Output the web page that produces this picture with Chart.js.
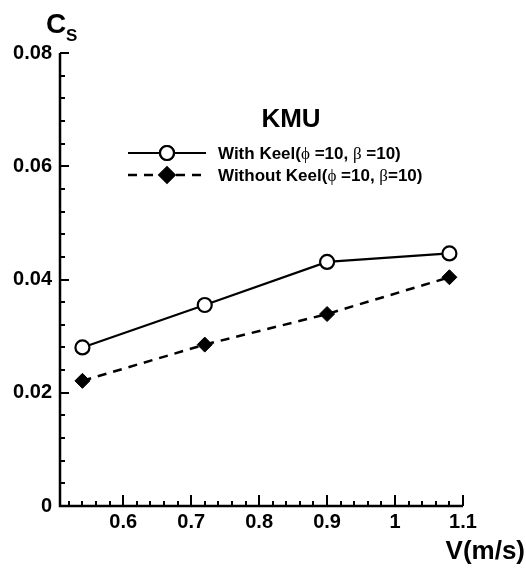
<!DOCTYPE html>
<html>
<head>
<meta charset="utf-8">
<script src="https://cdn.jsdelivr.net/npm/chart.js@4.4.0/dist/chart.umd.min.js"></script>
<style>
  html, body { margin: 0; padding: 0; background: #fff; }
  #wrap { width: 526px; height: 573px; }
</style>
</head>
<body>
<div id="wrap"><canvas id="chart" width="526" height="573"></canvas></div>
<script>
// data
const speeds = [0.54, 0.72, 0.9, 1.08];
const withKeel = [0.0280, 0.0355, 0.0431, 0.0446];
const withoutKeel = [0.0221, 0.0285, 0.0339, 0.0404];
const seriesNames = ['With Keel(ϕ =10, β =10)', 'Without Keel(ϕ =10, β =10)'];
const xTickLabels = [0.6, 0.7, 0.8, 0.9, 1, 1.1];
const yTickLabels = [0, 0.02, 0.04, 0.06, 0.08];

const FONT = '"Liberation Sans", Arial, sans-serif';

function points(xs, ys) {
  return xs.map((x, i) => ({ x: x, y: ys[i] }));
}

// axis lines with inward major/minor ticks, drawn through the scales
const axesPlugin = {
  id: 'axes',
  afterDatasetsDraw(chart) {
    const ctx = chart.ctx;
    const xs = chart.scales.x, ys = chart.scales.y;
    const a = chart.chartArea;
    ctx.save();
    ctx.strokeStyle = '#000';
    ctx.lineWidth = 2.5;
    ctx.beginPath();
    ctx.moveTo(a.left, a.top);
    ctx.lineTo(a.left, a.bottom);
    ctx.lineTo(a.right, a.bottom);
    ctx.stroke();

    ctx.lineWidth = 2;
    for (let i = 0; i <= 20; i++) {
      const v = i * 0.004;
      const y = Math.round(ys.getPixelForValue(v));
      const len = i % 5 === 0 ? 9 : 5;
      ctx.beginPath();
      ctx.moveTo(a.left, y);
      ctx.lineTo(a.left + len, y);
      ctx.stroke();
    }
    for (let i = 26; i <= 55; i++) {
      const v = i * 0.02;
      const x = Math.round(xs.getPixelForValue(v));
      const len = i % 5 === 0 ? 11 : 5;
      ctx.beginPath();
      ctx.moveTo(x, a.bottom);
      ctx.lineTo(x, a.bottom - len);
      ctx.stroke();
    }
    ctx.restore();
  }
};

// draws a run of text pieces with different fonts
function drawRuns(ctx, x, y, runs) {
  runs.forEach(r => {
    ctx.font = r[1];
    ctx.fillText(r[0], x, y);
    x += ctx.measureText(r[0]).width;
  });
}

// axis titles, "KMU" title and the legend box inside the plot
const labelsPlugin = {
  id: 'labels',
  afterDraw(chart) {
    const ctx = chart.ctx;
    ctx.save();
    ctx.fillStyle = '#000';
    ctx.textBaseline = 'alphabetic';

    ctx.font = 'bold 28px ' + FONT;
    ctx.fillText('C', 46, 33);
    ctx.font = 'bold 17px ' + FONT;
    ctx.fillText('S', 66, 41);

    ctx.font = 'bold 26px ' + FONT;
    ctx.textAlign = 'right';
    ctx.fillText('V(m/s)', 525, 559);

    ctx.textAlign = 'center';
    ctx.fillText('KMU', 291, 127);
    ctx.textAlign = 'left';

    const bold = 'bold 17px ' + FONT;
    const sym = '17px "Liberation Serif", serif';
    const rows = [153, 175];
    chart.data.datasets.forEach((ds, i) => {
      const y = rows[i];
      ctx.strokeStyle = ds.borderColor;
      ctx.lineWidth = ds.borderWidth;
      ctx.setLineDash(ds.borderDash || []);
      ctx.beginPath();
      ctx.moveTo(128, y);
      ctx.lineTo(206, y);
      ctx.stroke();
      ctx.setLineDash([]);
      Chart.helpers.drawPoint(ctx, {
        pointStyle: ds.pointStyle,
        radius: ds.pointRadius,
        borderWidth: ds.pointBorderWidth
      }, 167, y);
      ctx.fillStyle = ds.pointBackgroundColor;
      ctx.strokeStyle = ds.pointBorderColor;
      ctx.lineWidth = ds.pointBorderWidth;
      ctx.fill();
      ctx.stroke();
      ctx.fillStyle = '#000';
      const head = i === 0 ? 'With Keel(' : 'Without Keel(';
      drawRuns(ctx, 218, y + 6, [
        [head, bold], ['ϕ', sym], [' =10, ', bold], ['β', sym], [i === 0 ? ' =10)' : '=10)', bold]
      ]);
    });
    ctx.restore();
  }
};

new Chart(document.getElementById('chart'), {
  type: 'line',
  data: {
    datasets: [{
      label: seriesNames[0],
      data: points(speeds, withKeel),
      borderColor: '#000',
      borderWidth: 2.2,
      pointStyle: 'circle',
      pointRadius: 7,
      pointBorderWidth: 2.2,
      pointBackgroundColor: '#fff',
      pointBorderColor: '#000',
      tension: 0
    }, {
      label: seriesNames[1],
      data: points(speeds, withoutKeel),
      borderColor: '#000',
      borderWidth: 2.5,
      borderDash: [9, 7],
      pointStyle: 'rectRot',
      pointRadius: 7.5,
      pointBorderWidth: 1,
      pointBackgroundColor: '#000',
      pointBorderColor: '#000',
      tension: 0
    }]
  },
  options: {
    responsive: false,
    animation: false,
    devicePixelRatio: 1,
    layout: { padding: { top: 53, right: 63, bottom: 0, left: 0 } },
    plugins: { legend: { display: false }, title: { display: false }, tooltip: { enabled: false } },
    scales: {
      x: {
        type: 'linear',
        min: 0.507,
        max: 1.1,
        grid: { display: false, drawTicks: false },
        border: { display: false },
        afterBuildTicks: s => { s.ticks = xTickLabels.map(v => ({ value: v })); },
        afterFit: s => { s.height = 67; },
        ticks: {
          color: '#000',
          padding: 4,
          maxRotation: 0,
          font: { family: FONT, size: 20, weight: 'bold' },
          callback: v => String(v)
        }
      },
      y: {
        min: 0,
        max: 0.08,
        grid: { display: false, drawTicks: false },
        border: { display: false },
        afterBuildTicks: s => { s.ticks = yTickLabels.map(v => ({ value: v })); },
        afterFit: s => { s.width = 60; },
        ticks: {
          color: '#000',
          padding: 8,
          font: { family: FONT, size: 20, weight: 'bold' },
          callback: v => String(v)
        }
      }
    }
  },
  plugins: [axesPlugin, labelsPlugin]
});
</script>
</body>
</html>
